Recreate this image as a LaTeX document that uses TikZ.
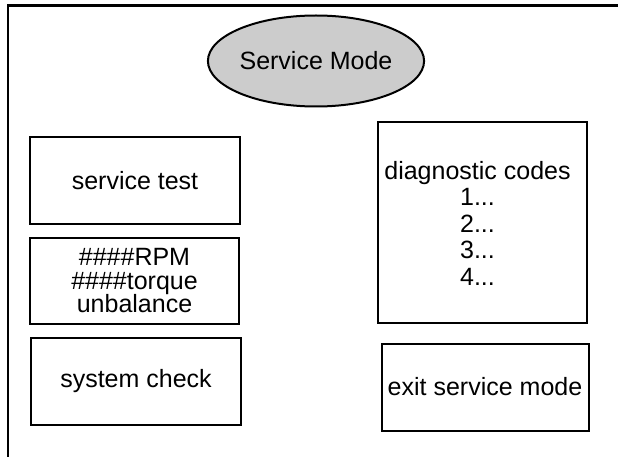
\documentclass[tikz,border=0pt]{standalone}
\usepackage{fontspec}
\setmainfont{Liberation Sans}
\usetikzlibrary{shapes.geometric}
\definecolor{ovalfill}{HTML}{CCCCCC}
\newcommand{\boxfont}{\fontsize{25}{23.5}\selectfont\lineskiplimit=-20pt\relax}
\begin{document}
\begin{tikzpicture}[x=1pt,y=-1pt,
  box/.style={draw=black, line width=2pt, rectangle, inner sep=0pt, align=center,
    font=\boxfont},
  txt/.style={inner sep=0pt, align=center, font=\fontsize{25}{26.5}\selectfont},
  frame/.style={line width=2.5pt}]
\useasboundingbox (0,0) rectangle (618,457);
\coordinate (tr) at (618,5.5);
\coordinate (tl) at (8,5.5);
\coordinate (bl) at (8,457);
\draw[frame] (tr) -- (tl) -- (bl);
\node[ellipse, draw=black, line width=2pt, fill=ovalfill, inner sep=0pt,
  minimum width=213pt, minimum height=91pt, font=\fontsize{25}{25}\selectfont]
  (sm) at (316,61) {Service Mode};
\node[box, minimum width=210pt, minimum height=87pt] (st) at (135,180.5) {service test};
\node[box, minimum width=209pt, minimum height=86pt] (rpm) at (134.5,281) {\#\#\#\#RPM\\\#\#\#\#torque\\unbalance};
\node[box, minimum width=210pt, minimum height=87pt] (sc) at (136,381.5) {system check};
\node[box, minimum width=209pt, minimum height=201pt] (dc) at (482.5,222.5) {};
\node[txt] (dct) at (477.5,223) {diagnostic codes\\1...\\2...\\3...\\4...};
\node[box, minimum width=207pt, minimum height=87pt] (ex) at (485,387) {exit service mode};
\end{tikzpicture}
\end{document}
